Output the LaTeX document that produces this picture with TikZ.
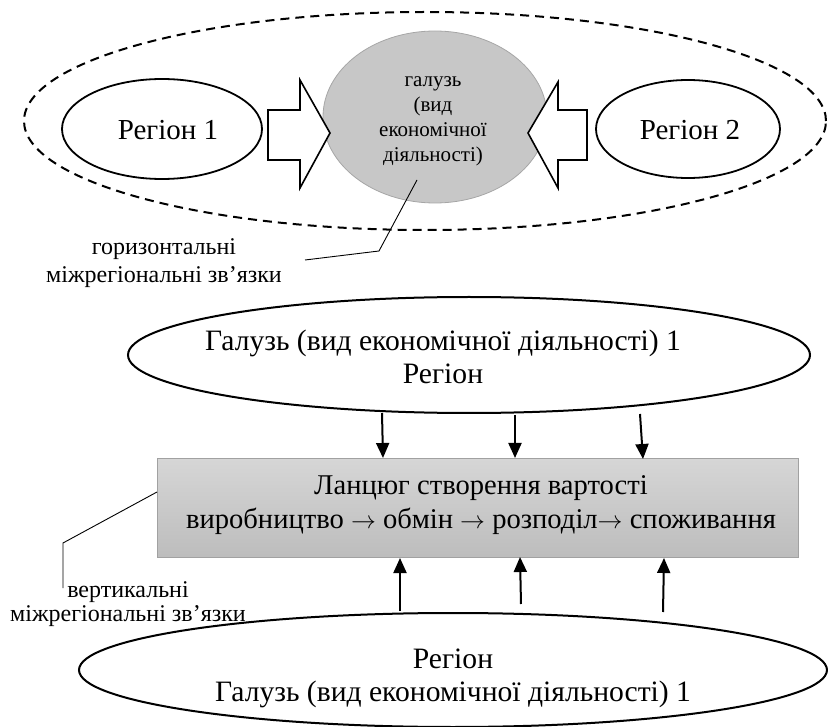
\documentclass[tikz,border=0pt]{standalone}
\usepackage{fontspec}
\setmainfont{Liberation Serif}
\usetikzlibrary{arrows.meta,shapes.geometric}
\newcommand{\myarr}{$\rightarrow$}
\begin{document}
\begin{tikzpicture}[x=1pt,y=-1pt,
  bigell/.style={ellipse, draw, line width=2pt, inner sep=0pt, fill=white},
  regell/.style={ellipse, draw, line width=1.8pt, inner sep=0pt, fill=white},
  bigtxt/.style={align=center, inner sep=0pt, font=\fontsize{29.6}{33}\selectfont},
  midtxt/.style={align=center, inner sep=0pt, font=\fontsize{29}{32}\selectfont},
  smalltxt/.style={align=center, inner sep=0pt, font=\fontsize{21}{25}\selectfont},
  lbltxt/.style={align=center, inner sep=0pt, font=\fontsize{24}{28}\selectfont},
  blockarrow/.style={draw, fill=white, line width=1.6pt, line join=miter},
  vlink/.style={line width=2pt, -{Triangle[length=15pt,width=13pt]}},
  leader/.style={line width=0.9pt}]
\useasboundingbox (0,0) rectangle (828,727);

% ---------- upper part ----------
\node[ellipse, draw, dashed, dash pattern=on 9pt off 6pt, line width=2pt,
      minimum width=802pt, minimum height=218pt, inner sep=0pt] (zone) at (425,121) {};
\node[regell, minimum width=200pt, minimum height=100pt] (r1) at (162,129) {};
\node[midtxt] (r1t) at (168,130) {Регіон 1};
\node[regell, minimum width=184pt, minimum height=98pt] (r2) at (688,129) {};
\node[midtxt] (r2t) at (690,130) {Регіон 2};
\node[ellipse, draw=black!35, line width=0.8pt, fill=black!22, inner sep=0pt,
      minimum width=224pt, minimum height=172pt] (ind) at (435,117) {};
\node[smalltxt] (indt) at (433,121) {галузь\\(вид\\економічної\\діяльності)};

% block arrows
\draw[blockarrow] (268,110) -- (300,110) -- (300,80) -- (330,133) -- (300,188)
  -- (300,160) -- (268,160) -- cycle;
\draw[blockarrow] (587,110) -- (558,110) -- (558,82) -- (528,133) -- (558,188)
  -- (558,160) -- (587,160) -- cycle;

% horizontal label
\node[lbltxt] (hlab) at (164,263) {горизонтальні\\міжрегіональні зв’язки};
\coordinate (h0) at (305,260);
\coordinate (h1) at (379,251);
\coordinate (h2) at (417,180);
\draw[leader] (h0) -- (h1) -- (h2);

% ---------- lower part ----------
\node[bigell, minimum width=682pt, minimum height=116pt] (top) at (469,355) {};
\node[bigtxt] (topt) at (443,357) {Галузь (вид економічної діяльності) 1\\Регіон};

\node[draw=black!37, line width=0.8pt, top color=black!16, bottom color=black!26,
      minimum width=641pt, minimum height=99pt, inner sep=0pt] (chain) at (477.5,507.5) {};
\node[bigtxt, font=\fontsize{28.6}{34}\selectfont] (chaint) at (481,505)
  {Ланцюг створення вартості\\виробництво \myarr{} обмін \myarr{} розподіл\myarr{} споживання};

\node[bigell, minimum width=748pt, minimum height=114pt] (bot) at (453,670) {};
\node[bigtxt] (bott) at (453,678) {Регіон\\Галузь (вид економічної діяльності) 1};

% down arrows
\coordinate (d1s) at (382,413); \coordinate (d1e) at (383,458);
\coordinate (d2s) at (515,415); \coordinate (d2e) at (515,458);
\coordinate (d3s) at (640,414); \coordinate (d3e) at (643,459);
\draw[vlink] (d1s) -- (d1e);
\draw[vlink] (d2s) -- (d2e);
\draw[vlink] (d3s) -- (d3e);

% up arrows
\coordinate (u1s) at (400,611); \coordinate (u1e) at (400,558);
\coordinate (u2s) at (521,604); \coordinate (u2e) at (520,557);
\coordinate (u3s) at (663,612); \coordinate (u3e) at (664,558);
\draw[vlink] (u1s) -- (u1e);
\draw[vlink] (u2s) -- (u2e);
\draw[vlink] (u3s) -- (u3e);

% vertical label
\node[lbltxt, font=\fontsize{24}{24}\selectfont] (vlab) at (128,604) {вертикальні\\міжрегіональні зв’язки};
\coordinate (v0) at (157,492);
\coordinate (v1) at (63,543);
\coordinate (v2) at (63,588);
\draw[leader] (v0) -- (v1) -- (v2);
\end{tikzpicture}
\end{document}
